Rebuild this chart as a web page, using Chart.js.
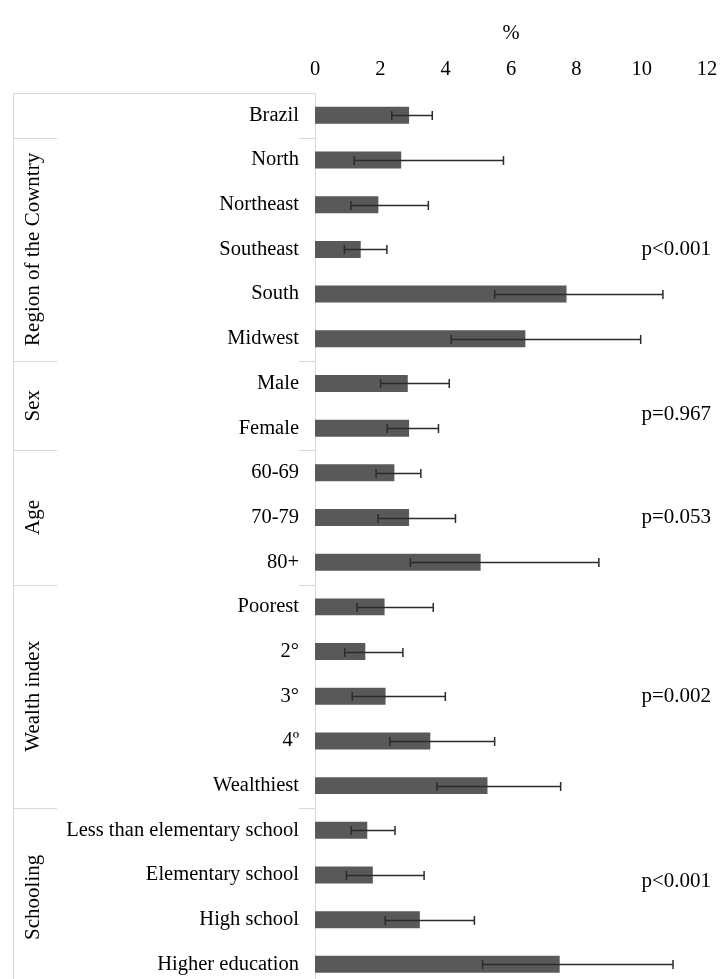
<!DOCTYPE html>
<html>
<head>
<meta charset="utf-8">
<script src="https://cdn.jsdelivr.net/npm/chart.js@4.4.1/dist/chart.umd.min.js"></script>
<style>
  html, body { margin: 0; padding: 0; background: #fff; overflow: hidden; }
  #wrap { width: 724px; height: 979px; overflow: hidden; }
</style>
</head>
<body>
<div id="wrap"><canvas id="myChart" width="724" height="1007"></canvas></div>
<script>
const categorias = ['Brazil', 'North', 'Northeast', 'Southeast', 'South', 'Midwest',
  'Male', 'Female', '60-69', '70-79', '80+', 'Poorest', '2°', '3°', '4º', 'Wealthiest',
  'Less than elementary school', 'Elementary school', 'High school', 'Higher education'];
const valores = [2.88, 2.64, 1.94, 1.40, 7.70, 6.44, 2.84, 2.88, 2.43, 2.88, 5.07,
  2.13, 1.54, 2.16, 3.53, 5.28, 1.60, 1.77, 3.21, 7.49];
const limiteInferior = [2.35, 1.20, 1.10, 0.90, 5.50, 4.17, 2.01, 2.21, 1.87, 1.93, 2.92,
  1.29, 0.91, 1.14, 2.29, 3.73, 1.11, 0.96, 2.15, 5.13];
const limiteSuperior = [3.59, 5.77, 3.47, 2.20, 10.65, 9.97, 4.11, 3.78, 3.24, 4.30, 8.69,
  3.62, 2.69, 3.99, 5.50, 7.52, 2.45, 3.34, 4.88, 10.96];
const grupos = ['', 'Region of the Cowntry', 'Sex', 'Age', 'Wealth index', 'Schooling'];
const grupoInicio = [0, 1, 6, 8, 11, 16];
const grupoFin = [0, 5, 7, 10, 15, 19];
const pValores = ['p<0.001', 'p=0.967', 'p=0.053', 'p=0.002', 'p<0.001'];
const pFila = [3, 6.7, 9, 13, 17.15];

const fuente = '"Liberation Serif", "DejaVu Serif", serif';
const gris = '#d9d9d9';

// barras de error, grupos y p-valores
const extras = {
  id: 'extras',
  afterDatasetsDraw(chart) {
    const ctx = chart.ctx;
    const x = chart.scales.x;
    const y = chart.scales.y;
    const banda = y.getPixelForValue(1) - y.getPixelForValue(0);
    ctx.save();
    ctx.strokeStyle = '#2b2b2b';
    ctx.lineWidth = 1.5;
    for (let i = 0; i < categorias.length; i++) {
      const yc = Math.round(y.getPixelForValue(i)) + 0.5;
      const x1 = x.getPixelForValue(limiteInferior[i]);
      const x2 = x.getPixelForValue(limiteSuperior[i]);
      ctx.beginPath();
      ctx.moveTo(x1, yc); ctx.lineTo(x2, yc);
      ctx.moveTo(x1, yc - 4.5); ctx.lineTo(x1, yc + 4.5);
      ctx.moveTo(x2, yc - 4.5); ctx.lineTo(x2, yc + 4.5);
      ctx.stroke();
    }
    // separadores de grupo
    ctx.strokeStyle = gris;
    ctx.lineWidth = 1;
    const izq = 13;
    const top = y.getPixelForValue(0) - banda / 2;
    ctx.beginPath();
    ctx.moveTo(izq, Math.round(top) + 0.5);
    ctx.lineTo(x.left, Math.round(top) + 0.5);
    ctx.moveTo(izq + 0.5, top);
    ctx.lineTo(izq + 0.5, chart.height);
    for (let g = 1; g < grupos.length; g++) {
      const yy = Math.round(y.getPixelForValue(grupoInicio[g]) - banda / 2) + 0.5;
      ctx.moveTo(izq, yy); ctx.lineTo(57, yy);
      ctx.moveTo(299, yy); ctx.lineTo(x.left, yy);
    }
    ctx.stroke();
    // nombres de grupo
    ctx.fillStyle = '#000';
    ctx.font = '21px ' + fuente;
    ctx.textAlign = 'center';
    ctx.textBaseline = 'middle';
    for (let g = 1; g < grupos.length; g++) {
      const yMedio = (y.getPixelForValue(grupoInicio[g]) + y.getPixelForValue(grupoFin[g])) / 2;
      ctx.save();
      ctx.translate(33, yMedio);
      ctx.rotate(-Math.PI / 2);
      ctx.fillText(grupos[g], 0, 0);
      ctx.restore();
    }
    // p-valores
    ctx.textAlign = 'right';
    for (let k = 0; k < pValores.length; k++) {
      ctx.fillText(pValores[k], 711, y.getPixelForValue(pFila[k]));
    }
    ctx.restore();
  }
};

const config = {
  type: 'bar',
  data: {
    labels: categorias,
    datasets: [{
      label: '%',
      data: valores,
      backgroundColor: '#595959',
      borderWidth: 0,
      categoryPercentage: 1,
      barPercentage: 0.38
    }]
  },
  options: {
    indexAxis: 'y',
    responsive: false,
    animation: false,
    layout: { padding: { left: 0, right: 17, top: 0, bottom: 0 } },
    plugins: { legend: { display: false }, tooltip: { enabled: false } },
    scales: {
      x: {
        position: 'top',
        min: 0,
        max: 12,
        ticks: { stepSize: 2, color: '#000', font: { family: fuente, size: 20.5 }, padding: 3 },
        grid: { display: false },
        border: { display: false },
        title: { display: true, text: '%', color: '#000', font: { family: fuente, size: 20.5 }, padding: { top: 21, bottom: 4 } },
        afterFit(scale) { scale.height = 93; }
      },
      y: {
        ticks: { color: '#000', font: { family: fuente, size: 20.5 }, padding: 8 },
        grid: { display: false },
        border: { display: true, color: gris, width: 1 },
        afterFit(scale) { scale.width = 315; }
      }
    }
  },
  plugins: [extras]
};

const myChart = new Chart(document.getElementById('myChart'), config);
</script>
</body>
</html>
